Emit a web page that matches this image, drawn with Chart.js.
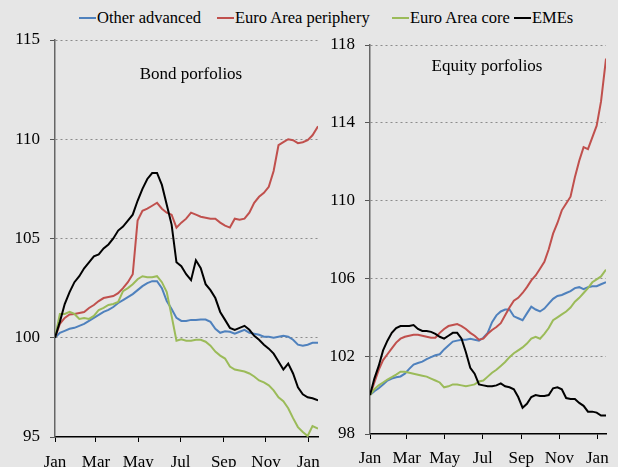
<!DOCTYPE html>
<html>
<head>
<meta charset="utf-8">
<script src="https://cdn.jsdelivr.net/npm/chart.js@4.4.1/dist/chart.umd.min.js"></script>
<style>
  html, body { margin:0; padding:0; background:#e6e6e6; }
  body { width:618px; height:467px; position:relative; overflow:hidden; font-family:"Liberation Serif", "Times New Roman", serif; }
  canvas { position:absolute; top:0; }
  #c1 { left:0; }
  #c2 { left:310px; }
  .lg { position:absolute; top:8px; font-size:16.5px; line-height:20px; color:#000; white-space:nowrap; }
  .sw { position:absolute; top:17px; height:2px; width:17px; }
</style>
</head>
<body>
<div class="sw" style="left:79px;background:#4f81bd"></div><div class="lg" style="left:97px">Other advanced</div>
<div class="sw" style="left:217px;background:#c0504d"></div><div class="lg" style="left:235px">Euro Area periphery</div>
<div class="sw" style="left:392px;background:#9bbb59"></div><div class="lg" style="left:410px">Euro Area core</div>
<div class="sw" style="left:514px;background:#000000"></div><div class="lg" style="left:532px">EMEs</div>
<canvas id="c1" width="330" height="467"></canvas>
<canvas id="c2" width="308" height="467"></canvas>
<script>
// ---- data ----
const days = [0,7,14,21,28,35,42,49,56,63,70,77,84,91,98,105,112,119,126,133,140,147,154,161,168,175,182,189,196,203,210,217,224,231,238,245,252,259,266,273,280,287,294,301,308,315,322,329,336,343,350,357,364,371,379];
const tickDays = [0,59,120,181,243,304,365];
const tickLabels = ['Jan','Mar','May','Jul','Sep','Nov','Jan'];
const seriesNames = ['Other advanced','Euro Area periphery','Euro Area core','EMEs'];
const panelTitles = ['Bond porfolios','Equity porfolios'];

// Bond portfolios
const bondOther = [100.0,100.25,100.35,100.45,100.5,100.6,100.7,100.85,101.0,101.15,101.3,101.4,101.55,101.75,101.9,102.05,102.2,102.4,102.6,102.75,102.85,102.85,102.5,101.85,101.45,101.0,100.85,100.85,100.9,100.9,100.92,100.92,100.8,100.45,100.25,100.33,100.3,100.2,100.3,100.4,100.25,100.2,100.15,100.05,100.05,100.0,100.05,100.1,100.05,99.9,99.65,99.6,99.65,99.75,99.75];
const bondPeriphery = [100.0,100.7,101.0,101.17,101.2,101.25,101.3,101.5,101.65,101.85,102.0,102.05,102.1,102.25,102.5,102.8,103.2,105.9,106.4,106.5,106.65,106.8,106.5,106.3,106.2,105.55,105.8,106.0,106.3,106.2,106.1,106.05,106.0,106.0,105.8,105.65,105.55,106.0,105.95,106.0,106.3,106.8,107.1,107.3,107.6,108.4,109.7,109.85,110.0,109.95,109.8,109.85,109.95,110.2,110.65];
const bondCore = [100.0,101.2,101.2,101.3,101.2,100.95,101.0,100.95,101.1,101.4,101.5,101.65,101.7,101.8,102.35,102.5,102.7,102.95,103.1,103.05,103.05,103.1,102.8,102.3,101.1,99.85,99.92,99.85,99.85,99.9,99.9,99.8,99.6,99.3,99.1,98.95,98.55,98.4,98.35,98.3,98.2,98.05,97.85,97.75,97.6,97.35,97.0,96.8,96.45,95.95,95.5,95.25,95.05,95.55,95.42];
const bondEMEs = [100.0,100.8,101.7,102.3,102.8,103.1,103.5,103.8,104.1,104.2,104.5,104.7,105.0,105.4,105.6,105.9,106.2,106.9,107.5,108.0,108.3,108.3,107.7,106.7,105.7,103.8,103.6,103.2,102.9,103.9,103.5,102.7,102.4,102.0,101.3,100.9,100.5,100.4,100.5,100.6,100.4,100.1,99.9,99.65,99.45,99.2,98.8,98.4,98.7,98.2,97.5,97.15,97.0,96.95,96.85];

// Equity portfolios
const eqOther = [100.0,100.2,100.35,100.55,100.75,100.85,100.92,100.96,101.1,101.35,101.57,101.65,101.72,101.85,101.95,102.05,102.1,102.35,102.55,102.75,102.8,102.85,102.85,102.9,102.85,102.8,102.95,103.2,103.75,104.1,104.3,104.4,104.4,104.05,103.95,103.85,104.2,104.55,104.4,104.3,104.45,104.7,104.95,105.1,105.15,105.25,105.35,105.5,105.55,105.45,105.55,105.6,105.6,105.7,105.8];
const eqPeriphery = [100.0,100.65,101.3,101.8,102.1,102.4,102.7,102.9,103.0,103.05,103.1,103.1,103.05,103.0,102.95,102.95,103.2,103.4,103.55,103.6,103.65,103.55,103.4,103.2,103.05,102.85,102.9,103.15,103.35,103.5,103.7,104.1,104.5,104.85,105.0,105.25,105.55,105.9,106.15,106.5,106.85,107.5,108.3,108.85,109.5,109.85,110.2,111.2,112.05,112.75,112.65,113.25,113.85,115.1,117.3];
const eqCore = [100.0,100.3,100.5,100.65,100.8,100.92,101.05,101.2,101.2,101.15,101.1,101.05,101.0,100.95,100.85,100.75,100.65,100.4,100.45,100.55,100.55,100.5,100.45,100.5,100.55,100.7,100.75,100.95,101.15,101.3,101.5,101.7,101.95,102.15,102.3,102.45,102.65,102.9,103.0,102.9,103.15,103.45,103.85,104.0,104.15,104.3,104.5,104.8,105.0,105.25,105.5,105.8,105.95,106.1,106.45];
const eqEMEs = [100.0,100.85,101.5,102.3,102.8,103.2,103.45,103.55,103.55,103.55,103.6,103.4,103.3,103.3,103.25,103.15,103.0,102.9,103.05,103.2,103.2,102.9,102.2,101.4,101.1,100.55,100.5,100.45,100.45,100.5,100.6,100.45,100.4,100.3,99.9,99.35,99.55,99.9,100.0,99.95,99.95,100.0,100.35,100.4,100.3,99.85,99.8,99.8,99.6,99.45,99.15,99.15,99.1,98.95,98.95];

const colors = ['#4f81bd','#c0504d','#9bbb59','#000000'];
const FONT = "'Liberation Serif', 'Times New Roman', serif";

function makeDatasets(arrs) {
  return arrs.map((a, k) => ({
    label: seriesNames[k],
    data: days.map((d, i) => ({x: d, y: a[i]})),
    borderColor: colors[k],
    borderWidth: 2,
    pointRadius: 0,
    tension: 0,
    fill: false,
    order: k === 3 ? 0 : 4 - k
  }));
}

const titlePlugin = {
  id: 'panelTitle',
  afterDraw(chart, args, opts) {
    const ctx = chart.ctx;
    ctx.save();
    ctx.font = '17px ' + FONT;
    ctx.fillStyle = '#000';
    ctx.textAlign = 'center';
    ctx.textBaseline = 'alphabetic';
    ctx.fillText(opts.text, opts.x, opts.y);
    ctx.restore();
  }
};

function makeChart(id, arrs, cfg) {
  return new Chart(document.getElementById(id), {
    type: 'line',
    data: { datasets: makeDatasets(arrs) },
    plugins: [titlePlugin],
    options: {
      responsive: false,
      animation: false,
      devicePixelRatio: 1,
      layout: { padding: { left: 0, right: cfg.padRight, top: cfg.padTop, bottom: 0 } },
      plugins: {
        legend: { display: false },
        tooltip: { enabled: false },
        panelTitle: { text: cfg.title, x: cfg.titleX, y: cfg.titleY }
      },
      scales: {
        x: {
          type: 'linear',
          min: 0, max: 379,
          afterBuildTicks: s => { s.ticks = tickDays.map(v => ({value: v})); },
          afterFit: s => { s.height = cfg.xHeight; },
          ticks: {
            autoSkip: false, maxRotation: 0, minRotation: 0,
            padding: cfg.xPad,
            color: '#000',
            font: { family: FONT, size: 17 },
            callback: (v, i) => tickLabels[i]
          },
          grid: { drawOnChartArea: false, drawTicks: true, tickLength: 5, tickColor: '#000', tickWidth: 1 },
          border: { display: true, color: '#000', width: 1.5 }
        },
        y: {
          min: cfg.yMin, max: cfg.yMax,
          afterBuildTicks: s => { s.ticks = cfg.yTicks.map(v => ({value: v})); },
          afterFit: s => { s.width = cfg.yWidth; },
          ticks: {
            padding: 10,
            color: '#000',
            font: { family: FONT, size: 17 },
            callback: v => String(v)
          },
          grid: {
            color: c => (c.tick && c.tick.value === cfg.yMin) ? 'rgba(0,0,0,0)' : '#8c8c8c',
            lineWidth: 1,
            drawTicks: true, tickLength: 5, tickColor: '#555', tickWidth: 1
          },
          border: { display: true, color: '#666', width: 1.5, dash: [2, 3] }
        }
      }
    }
  });
}

const bondYTicks = [95,100,105,110,115];
const eqYTicks = [98,102,106,110,114,118];

makeChart('c1', [bondOther, bondPeriphery, bondCore, bondEMEs], {
  padRight: 9, padTop: 40, xHeight: 30, xPad: 10, yWidth: 55,
  yMin: 95, yMax: 115, yTicks: bondYTicks,
  title: panelTitles[0], titleX: 191, titleY: 79
});
makeChart('c2', [eqOther, eqPeriphery, eqCore, eqEMEs], {
  padRight: 10, padTop: 45, xHeight: 33, xPad: 9, yWidth: 60,
  yMin: 98, yMax: 118, yTicks: eqYTicks,
  title: panelTitles[1], titleX: 177, titleY: 71
});
</script>
</body>
</html>
